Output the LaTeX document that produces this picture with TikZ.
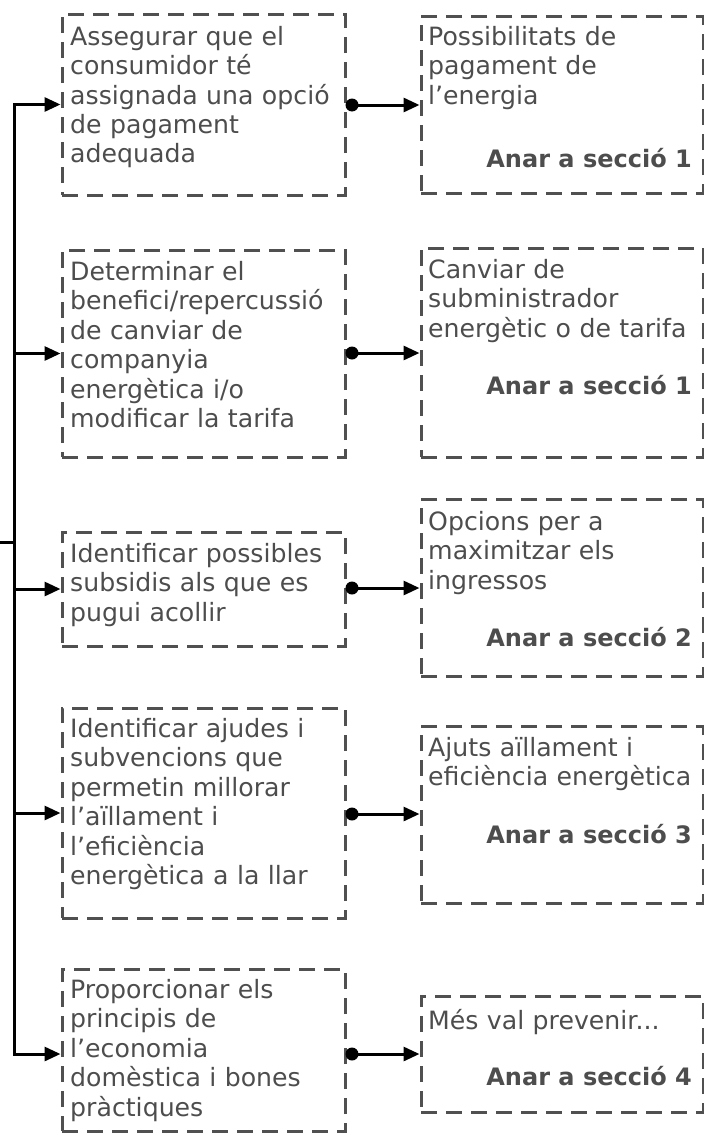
\documentclass[tikz,border=0pt]{standalone}
\usepackage{fontspec}
\setmainfont{DejaVu Sans}
\usetikzlibrary{arrows.meta}
\definecolor{boxgray}{HTML}{505050}
\definecolor{txtgray}{HTML}{4D4D4D}
\begin{document}
\begin{tikzpicture}[x=1pt,y=-1pt,
  stepbox/.style={draw=boxgray, line width=3pt, dash pattern=on 16pt off 9pt, rectangle, inner sep=0pt},
  lbox/.style={stepbox, minimum width=283pt},
  rbox/.style={stepbox, minimum width=282pt},
  txt/.style={anchor=base west, inner sep=0pt, text width=300pt, align=left, text=txtgray, font=\fontsize{25.2pt}{29.5pt}\selectfont},
  goto/.style={anchor=base east, inner sep=0pt, text=txtgray, font=\fontsize{24pt}{29pt}\selectfont\bfseries},
  conn/.style={line width=3pt, -{Triangle[length=16pt,width=14pt]}},
  dotn/.style={circle, fill=black, inner sep=0pt, minimum size=13pt}]
\useasboundingbox (0,0) rectangle (704,1135);

% left boxes
\node[lbox, minimum height=181pt] (L1) at (203.5,104.5) {};
\node[lbox, minimum height=207pt] (L2) at (203.5,353.5) {};
\node[lbox, minimum height=114pt] (L3) at (203.5,589) {};
\node[lbox, minimum height=210pt] (L4) at (203.5,813) {};
\node[lbox, minimum height=162pt] (L5) at (203.5,1050) {};

\node[txt] (L1t) at (70,45) {Assegurar que el\\consumidor té\\assignada una opció\\de pagament\\adequada};
\node[txt] (L2t) at (70,280) {Determinar el\\benefici/repercussió\\de canviar de\\companyia\\energètica i/o\\modificar la tarifa};
\node[txt] (L3t) at (70,562) {Identificar possibles\\subsidis als que es\\pugui acollir};
\node[txt] (L4t) at (70,737) {Identificar ajudes i\\subvencions que\\permetin millorar\\l’aïllament i\\l’eficiència\\energètica a la llar};
\node[txt] (L5t) at (70,998) {Proporcionar els\\principis de\\l’economia\\domèstica i bones\\pràctiques};

% right boxes
\node[rbox, minimum height=177pt] (R1) at (562,104.5) {};
\node[rbox, minimum height=209pt] (R2) at (562,352.5) {};
\node[rbox, minimum height=177pt] (R3) at (562,587.5) {};
\node[rbox, minimum height=177pt] (R4) at (562,814.5) {};
\node[rbox, minimum height=116pt] (R5) at (562,1054) {};

\node[txt] (R1t) at (428,45) {Possibilitats de\\pagament de\\l’energia};
\node[goto] (R1g) at (692,167) {Anar a secció 1};
\node[txt] (R2t) at (428,278) {Canviar de\\subministrador\\energètic o de tarifa};
\node[goto] (R2g) at (692,394) {Anar a secció 1};
\node[txt] (R3t) at (428,530) {Opcions per a\\maximitzar els\\ingressos};
\node[goto] (R3g) at (692,646) {Anar a secció 2};
\node[txt] (R4t) at (428,756) {Ajuts aïllament i\\eficiència energètica};
\node[goto] (R4g) at (692,843) {Anar a secció 3};
\node[txt] (R5t) at (428,1029) {Més val prevenir...};
\node[goto] (R5g) at (692,1085) {Anar a secció 4};

% spine
\coordinate (in) at (0,542);
\coordinate (j) at (14,542);
\draw[line width=3pt] (in) -- (j);
\draw[conn] (j) |- (L1.west);
\draw[conn] (j) |- (L2.west);
\draw[conn] (j) |- (L3.west);
\draw[conn] (j) |- (L4.west);
\draw[conn] (j) |- ([yshift=-4pt]L5.west);

% dots and links
\node[dotn] (d1) at (352,105) {};
\node[dotn] (d2) at (352,353) {};
\node[dotn] (d3) at (352,588) {};
\node[dotn] (d4) at (352,814) {};
\node[dotn] (d5) at (352,1054) {};
\draw[conn] (d1.center) -- (d1.center -| R1.west);
\draw[conn] (d2.center) -- (d2.center -| R2.west);
\draw[conn] (d3.center) -- (d3.center -| R3.west);
\draw[conn] (d4.center) -- (d4.center -| R4.west);
\draw[conn] (d5.center) -- (d5.center -| R5.west);
\end{tikzpicture}
\end{document}
